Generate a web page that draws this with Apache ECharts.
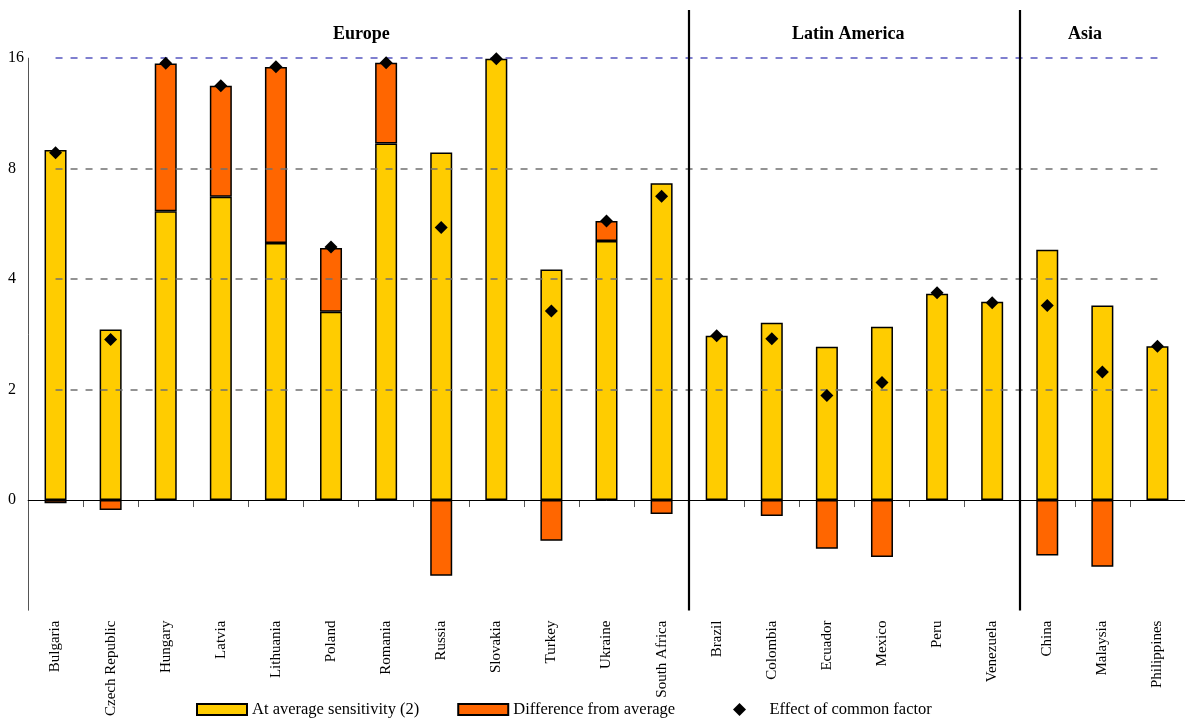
<!DOCTYPE html>
<html>
<head>
<meta charset="utf-8">
<script src="https://cdn.jsdelivr.net/npm/echarts@6/dist/echarts.min.js"></script>
<style>
  html, body { margin: 0; padding: 0; background: #fff; }
  #chart { width: 1185px; height: 719px; }
</style>
</head>
<body>
<div id="chart"></div>
<script>
  // values are in axis units: each tick step (0,2,4,8,16) is one unit
  const countries = ['Bulgaria', 'Czech Republic', 'Hungary', 'Latvia', 'Lithuania', 'Poland', 'Romania',
    'Russia', 'Slovakia', 'Turkey', 'Ukraine', 'South Africa', 'Brazil', 'Colombia', 'Ecuador', 'Mexico',
    'Peru', 'Venezuela', 'China', 'Malaysia', 'Philippines']
  const avgSensitivity = [3.165, 1.543, 2.613, 2.742, 2.324, 1.703, 3.225, 3.144, 3.991, 2.084, 2.342, 2.865,
    1.486, 1.604, 1.387, 1.568, 1.865, 1.793, 2.264, 1.76, 1.39]
  const diffFromAvg = [-0.03, -0.09, 1.336, 1.006, 1.592, 0.576, 0.73, -0.685, null, -0.369, 0.181, -0.126,
    null, -0.144, -0.441, -0.514, null, null, -0.502, -0.604, null]
  const commonFactor = [3.14, 1.453, 3.95, 3.748, 3.919, 2.288, 3.955, 2.465, 3.991, 1.709, 2.523, 2.748,
    1.486, 1.459, 0.946, 1.063, 1.874, 1.784, 1.76, 1.159, 1.39]
  const yTickPos = [0, 1, 2, 3, 4]
  const yTickLabels = ['0', '2', '4', '8', '16']
  const regions = ['Europe', 'Latin America', 'Asia']
  const regionBreaks = [11.5, 17.5]

  const serif = '"Liberation Serif", "DejaVu Serif", serif'
  const myChart = echarts.init(document.getElementById('chart'))
  const last = countries.length - 1

  const gridLines = yTickPos.slice(1).map(function (p, i) {
    const blue = i === yTickPos.length - 2
    return [{ coord: [0, p], lineStyle: { color: blue ? '#5656c0' : '#707070', type: [7, 8], width: 1.5 } },
      { coord: [last, p] }]
  })
  const sepLines = regionBreaks.map(function (b) {
    return [{ coord: [b, -1], lineStyle: { color: '#000', type: 'solid', width: 2.2 } }, { coord: [b, 4.432] }]
  })
  const legendText = { fontFamily: serif, fontSize: 16.5, color: '#000' }

  const option = {
    animation: false,
    textStyle: { fontFamily: serif },
    grid: { left: 28, right: -2, top: 10, bottom: 105 },
    legend: [
      {
        left: 191,
        top: 696,
        itemWidth: 50,
        itemHeight: 11,
        itemGap: 38,
        textStyle: legendText,
        data: [
          { name: 'At average sensitivity (2)', icon: 'rect' },
          { name: 'Difference from average', icon: 'rect' }
        ]
      },
      {
        left: 728,
        top: 696,
        itemWidth: 50,
        itemHeight: 13,
        symbolKeepAspect: true,
        textStyle: legendText,
        data: [{ name: 'Effect of common factor', icon: 'path://M5,0 L10,5 L5,10 L0,5 Z' }]
      }
    ],
    graphic: [
      { type: 'text', left: 333, top: 25, style: { text: regions[0], font: 'bold 18px ' + serif, fill: '#000' } },
      { type: 'text', left: 792, top: 25, style: { text: regions[1], font: 'bold 18px ' + serif, fill: '#000' } },
      { type: 'text', left: 1068, top: 25, style: { text: regions[2], font: 'bold 18px ' + serif, fill: '#000' } }
    ],
    xAxis: [
      {
        type: 'category',
        data: countries,
        axisLine: { lineStyle: { color: '#555', width: 1 } },
        axisTick: { show: true, length: 7, lineStyle: { color: '#555' } },
        axisLabel: { rotate: 90, margin: 10, fontSize: 15, color: '#000', fontFamily: serif, interval: 0 }
      },
      { type: 'value', min: -0.5, max: 20.5, show: false }
    ],
    yAxis: {
      type: 'value',
      min: -1,
      max: 4.432,
      interval: 1,
      axisLine: { show: false },
      axisTick: { show: false },
      splitLine: { show: false },
      axisLabel: {
        margin: 20,
        align: 'left',
        fontSize: 16,
        color: '#000',
        fontFamily: serif,
        formatter: function (v) {
          const i = yTickPos.indexOf(v)
          return i >= 0 ? yTickLabels[i] : ''
        }
      }
    },
    series: [
      {
        name: 'At average sensitivity (2)',
        type: 'bar',
        stack: 'total',
        barWidth: 22,
        data: avgSensitivity,
        itemStyle: { color: '#FFCC00', borderColor: '#000', borderWidth: 1.5 }
      },
      {
        name: 'Difference from average',
        type: 'bar',
        stack: 'total',
        barWidth: 22,
        data: diffFromAvg,
        itemStyle: { color: '#FF6600', borderColor: '#000', borderWidth: 1.5 }
      },
      {
        name: 'Effect of common factor',
        type: 'scatter',
        xAxisIndex: 1,
        symbol: 'diamond',
        symbolSize: 13,
        itemStyle: { color: '#000', opacity: 1 },
        z: 5,
        data: commonFactor.map(function (v, i) { return [i, v] }),
        markLine: {
          silent: true,
          symbol: 'none',
          label: { show: false },
          data: gridLines.concat(sepLines).concat([
            [{ coord: [-0.5, 4], lineStyle: { color: '#555', type: 'solid', width: 1 } }, { coord: [-0.5, -1] }],
            [{ coord: [-0.5, 0], lineStyle: { color: '#000', type: 'solid', width: 1 } }, { coord: [20.5, 0] }]
          ])
        }
      }
    ]
  }
  myChart.setOption(option)
  window.addEventListener('resize', function () {
    myChart.resize()
  })
</script>
</body>
</html>
